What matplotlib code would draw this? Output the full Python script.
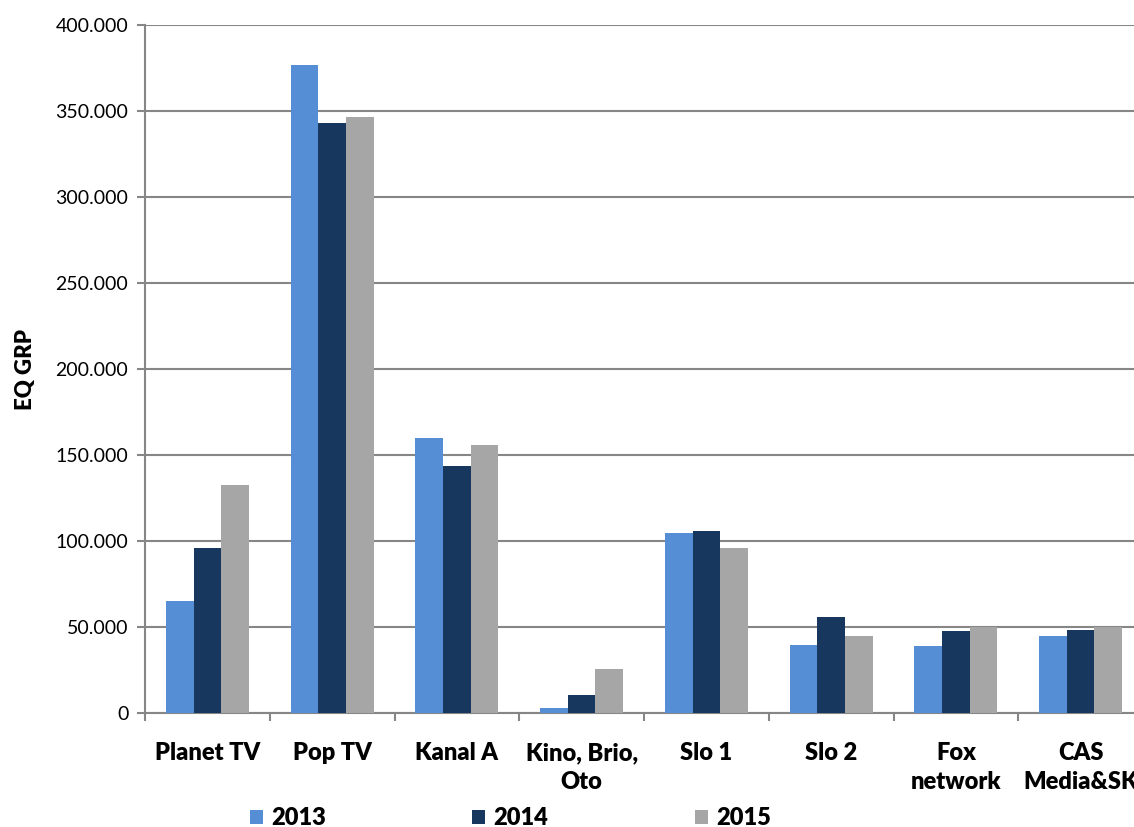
import matplotlib
matplotlib.use("Agg")
import matplotlib.pyplot as plt
import numpy as np
from matplotlib.ticker import FuncFormatter

categories = ["Planet TV", "Pop TV", "Kanal A", "Kino, Brio,\nOto", "Slo 1", "Slo 2",
              "Fox\nnetwork", "CAS\nMedia&SK"]
years = ["2013", "2014", "2015"]
v2013 = [65.0, 376.7, 159.9, 2.7, 104.8, 39.7, 38.9, 44.8]
v2014 = [96.0, 342.8, 143.6, 10.3, 105.6, 55.6, 47.7, 48.3]
v2015 = [132.6, 346.7, 155.8, 25.4, 95.7, 44.8, 50.2, 50.2]
yticks = [0, 50, 100, 150, 200, 250, 300, 350, 400]
colors = ["#558ED5", "#17375E", "#A6A6A6"]

plt.rcParams['font.family'] = ['Lato', 'DejaVu Sans']

fig = plt.figure(figsize=(11.34, 8.27), dpi=100)
W, H = 1134, 827
ax = fig.add_axes([145 / W, (H - 713) / H, (1143 - 145) / W, (713 - 25) / H])

x = np.arange(len(categories)) + 0.5
bw = 0.667 / 3
series = [v2013, v2014, v2015]
handles = []
for i, (vals, c, lab) in enumerate(zip(series, colors, years)):
    b = ax.bar(x + (i - 1) * bw, vals, width=bw, color=c, label=lab, zorder=3,
               clip_on=False)
    handles.append(b)

ax.set_xlim(0, len(categories))
ax.set_ylim(0, 400)
ax.set_yticks(yticks)
ax.yaxis.set_major_formatter(FuncFormatter(lambda v, p: "0" if v == 0 else f"{v:.3f}"))
ax.grid(axis='y', color='#868686', linewidth=1.5, zorder=0)

ax.set_xticks(x)
ax.set_xticklabels(categories, fontsize=17, fontweight='heavy', linespacing=1.38, va='top')
ax.set_xticks(np.arange(len(categories) + 1), minor=True)
ax.tick_params(axis='x', which='major', length=0, pad=21)
ax.tick_params(axis='x', which='minor', length=6, width=1.5, color='#868686')
ax.tick_params(axis='y', length=6, width=1.5, color='#868686', labelsize=14, pad=6)

for s in ['top', 'right']:
    ax.spines[s].set_visible(False)
for s in ['left', 'bottom']:
    ax.spines[s].set_color('#868686')
    ax.spines[s].set_linewidth(1.5)

ax.set_ylabel("EQ GRP", fontsize=16, fontweight='heavy', labelpad=14)

leg = fig.legend(handles=handles, labels=years, ncol=3, loc='center left',
                 bbox_to_anchor=(250 / W, 1 - 818 / H), frameon=False,
                 prop={'weight': 'heavy', 'size': 17}, handlelength=0.55, handleheight=0.55,
                 handletextpad=0.35, columnspacing=6.2, borderaxespad=0, borderpad=0)

fig.savefig("out.png", dpi=100)
